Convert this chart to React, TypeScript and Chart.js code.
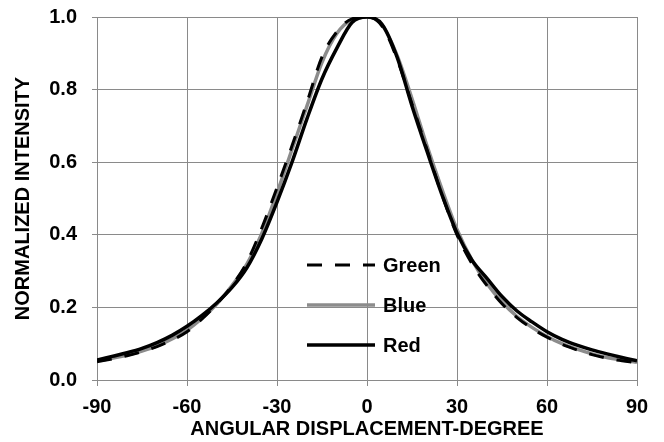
import React, { useEffect, useRef } from "react";
import { Chart, registerables } from "chart.js";

Chart.register(...registerables);

const angles = [-90, -85, -80, -75, -70, -65, -60, -55, -50, -45, -40, -35, -30, -25, -20, -15, -10, -5, 0, 5, 10, 15, 20, 25, 30, 35, 40, 45, 50, 55, 60, 65, 70, 75, 80, 85, 90];

const greenValues = [0.05, 0.058, 0.067, 0.078, 0.092, 0.11, 0.133, 0.168, 0.21, 0.26, 0.325, 0.42, 0.53, 0.645, 0.765, 0.89, 0.96, 0.995, 1.0, 0.975, 0.885, 0.76, 0.635, 0.51, 0.4, 0.32, 0.26, 0.21, 0.172, 0.142, 0.118, 0.098, 0.083, 0.07, 0.06, 0.053, 0.047];

const blueValues = [0.052, 0.06, 0.069, 0.08, 0.094, 0.113, 0.137, 0.17, 0.21, 0.26, 0.32, 0.405, 0.515, 0.635, 0.755, 0.875, 0.955, 0.993, 1.0, 0.978, 0.895, 0.775, 0.645, 0.525, 0.415, 0.33, 0.265, 0.215, 0.175, 0.145, 0.12, 0.1, 0.085, 0.072, 0.062, 0.055, 0.049];

const redValues = [0.055, 0.065, 0.075, 0.087, 0.103, 0.123, 0.148, 0.178, 0.213, 0.255, 0.31, 0.39, 0.49, 0.6, 0.72, 0.83, 0.915, 0.985, 1.0, 0.98, 0.89, 0.755, 0.63, 0.51, 0.405, 0.33, 0.28, 0.23, 0.19, 0.16, 0.133, 0.112, 0.096, 0.083, 0.072, 0.062, 0.053];

const seriesNames = ["Green", "Blue", "Red"];
const xTicks = [-90, -60, -30, 0, 30, 60, 90];
const yTicks = [0, 0.2, 0.4, 0.6, 0.8, 1.0];

const FONT = "'Liberation Sans', Arial, sans-serif";
const GRID = "#8a8a8a";

const legendPlugin = {
  id: "insideLegend",
  afterDraw(chart: any) {
    const { ctx, chartArea } = chart;
    const x1 = chartArea.left + 210;
    const x2 = chartArea.left + 278;
    const tx = chartArea.left + 286;
    const y0 = chartArea.top + 248;
    const gap = 40;
    const dsOrder = [0, 1, 2];
    ctx.save();
    dsOrder.forEach((i, k) => {
      const ds = chart.data.datasets[i];
      const y = y0 + k * gap;
      ctx.beginPath();
      ctx.strokeStyle = ds.borderColor;
      ctx.lineWidth = ds.borderWidth;
      ctx.setLineDash(ds.borderDash || []);
      ctx.moveTo(x1, y);
      ctx.lineTo(x2, y);
      ctx.stroke();
      ctx.setLineDash([]);
      ctx.fillStyle = "#000";
      ctx.font = `bold 20px ${FONT}`;
      ctx.textAlign = "left";
      ctx.textBaseline = "middle";
      ctx.fillText(ds.label, tx, y + 1);
    });
    ctx.restore();
  },
};

export default function App() {
  const ref = useRef<HTMLCanvasElement | null>(null);

  useEffect(() => {
    document.body.style.margin = "0";
    const canvas = ref.current;
    if (!canvas) return;
    const mk = (vals: number[]) => angles.map((a, i) => ({ x: a, y: vals[i] }));
    const chart = new Chart(canvas, {
      type: "line",
      data: {
        datasets: [
          {
            label: seriesNames[0],
            data: mk(greenValues),
            borderColor: "#000000",
            borderWidth: 3,
            borderDash: [15, 13],
            pointRadius: 0,
            cubicInterpolationMode: "monotone",
            order: 1,
          },
          {
            label: seriesNames[1],
            data: mk(blueValues),
            borderColor: "#8c8c8c",
            borderWidth: 3.5,
            pointRadius: 0,
            cubicInterpolationMode: "monotone",
            order: 2,
          },
          {
            label: seriesNames[2],
            data: mk(redValues),
            borderColor: "#000000",
            borderWidth: 3.5,
            pointRadius: 0,
            cubicInterpolationMode: "monotone",
            order: 0,
          },
        ],
      },
      options: {
        responsive: false,
        animation: false,
        layout: { padding: { top: 17, right: 27, left: 0, bottom: 0 } },
        plugins: {
          legend: { display: false },
          tooltip: { enabled: false },
        },
        scales: {
          x: {
            type: "linear",
            min: -90,
            max: 90,
            afterBuildTicks: (s: any) => {
              s.ticks = xTicks.map((v) => ({ value: v }));
            },
            afterFit: (s: any) => {
              s.height = 62;
              s.paddingLeft = 0;
              s.paddingRight = 0;
            },
            grid: { color: GRID, lineWidth: 1, tickLength: 6, drawTicks: true },
            border: { color: GRID, width: 1 },
            ticks: {
              color: "#000",
              font: { family: FONT, size: 20, weight: "bold" },
              padding: 9,
              maxRotation: 0,
              callback: (v: any) => String(v),
            },
            title: {
              display: true,
              text: "ANGULAR DISPLACEMENT-DEGREE",
              color: "#000",
              font: { family: FONT, size: 20, weight: "bold" },
              padding: { top: 0, bottom: 1 },
            },
          },
          y: {
            type: "linear",
            min: 0,
            max: 1,
            afterBuildTicks: (s: any) => {
              s.ticks = yTicks.map((v) => ({ value: v }));
            },
            afterFit: (s: any) => {
              s.width = 97;
              s.paddingTop = 0;
              s.paddingBottom = 0;
            },
            grid: { color: GRID, lineWidth: 1, tickLength: 5, drawTicks: true },
            border: { color: GRID, width: 1 },
            ticks: {
              color: "#000",
              font: { family: FONT, size: 20, weight: "bold" },
              padding: 15,
              callback: (v: any) => Number(v).toFixed(1),
            },
            title: {
              display: true,
              text: "NORMALIZED INTENSITY",
              color: "#000",
              font: { family: FONT, size: 20, weight: "bold" },
              padding: { top: 11, bottom: 0 },
            },
          },
        },
      },
      plugins: [legendPlugin],
    } as any);
    return () => chart.destroy();
  }, []);

  return (
    <div style={{ position: "absolute", left: 0, top: 0, width: 664, height: 442, background: "#fff" }}>
      <canvas ref={ref} width={664} height={442} style={{ width: 664, height: 442 }} />
    </div>
  );
}
